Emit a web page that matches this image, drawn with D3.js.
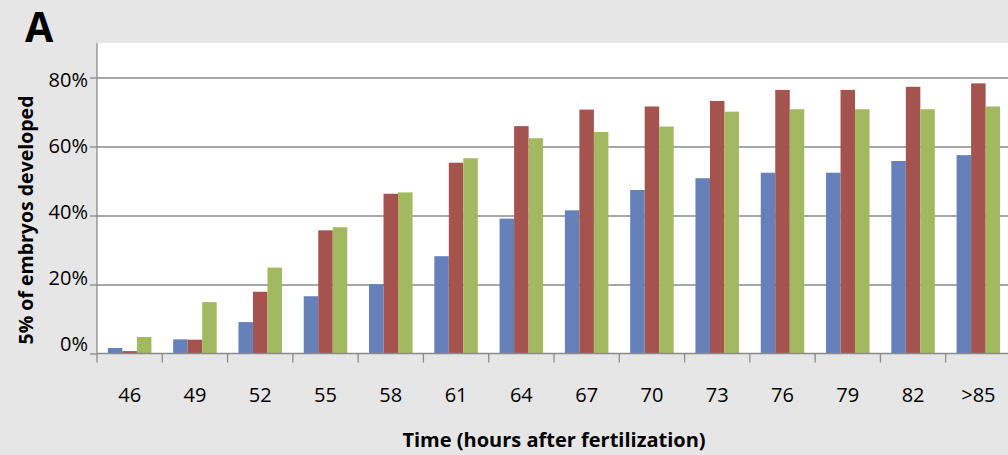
<!DOCTYPE html>
<html>
<head>
<meta charset="utf-8">
<script src="https://cdn.jsdelivr.net/npm/d3@7"></script>
<style>
  html, body { margin: 0; padding: 0; background: #e6e6e6; }
  svg { display: block; }
  text { font-family: "Open Sans", "DejaVu Sans", sans-serif; fill: #000; }
</style>
</head>
<body>
<svg id="chart" width="1008" height="455"></svg>
<script>
// Hours after fertilization
const categories = ["46", "49", "52", "55", "58", "61", "64", "67", "70", "73", "76", "79", "82", ">85"];

// Percentage of embryos developed, one array per condition
const seriesBlue  = [1.6, 4.1, 9.1, 16.6, 20.1, 28.2, 39.1, 41.5, 47.4, 50.8, 52.4, 52.4, 55.8, 57.5];
const seriesRed   = [0.7, 4.0, 17.9, 35.7, 46.3, 55.3, 65.9, 70.7, 71.6, 73.2, 76.4, 76.4, 77.3, 78.3];
const seriesGreen = [4.8, 14.9, 24.9, 36.6, 46.7, 56.6, 62.4, 64.2, 65.8, 70.1, 70.8, 70.8, 70.8, 71.6];

const seriesColors = ["#6681ba", "#a4534f", "#a3b95f"];
const yTicks = [0, 20, 40, 60, 80];

const svg = d3.select("#chart");
const W = 1008, H = 455;
const plot = { left: 97, right: 1011, top: 43, bottom: 353.5 };
const axisColor = "#8a8a8a";
const labelSize = 20;

const series = [seriesBlue, seriesRed, seriesGreen];

const x = d3.scaleBand().domain(categories).range([plot.left, plot.right]).padding(0);
const xInner = d3.scaleBand().domain(d3.range(series.length))
  .range([0, x.bandwidth()]).paddingInner(0).paddingOuter(0.75);
const y = d3.scaleLinear().domain([0, 90]).range([plot.bottom, plot.top]);
// tick labels sit on a slightly tighter spacing than the gridlines
const yLabel = d3.scaleLinear().domain([0, 80]).range([343.7, 79.2]);

// panel background and white plot area
svg.append("rect").attr("width", W).attr("height", H).attr("fill", "#e6e6e6");
svg.append("rect")
  .attr("x", plot.left).attr("y", plot.top)
  .attr("width", plot.right - plot.left).attr("height", plot.bottom - plot.top)
  .attr("fill", "#ffffff");

// horizontal gridlines
svg.append("g")
  .attr("transform", `translate(${plot.left},0)`)
  .call(d3.axisLeft(y).tickValues(yTicks.filter(d => d > 0)).tickSize(-(plot.right - plot.left)).tickFormat(""))
  .call(g => g.select(".domain").remove())
  .call(g => g.selectAll("line").attr("stroke", axisColor).attr("stroke-width", 1.3));

// bars
const groups = svg.append("g").selectAll("g")
  .data(categories)
  .join("g")
  .attr("transform", d => `translate(${x(d)},0)`);

groups.selectAll("rect")
  .data((d, i) => series.map((s, k) => ({ k, v: s[i] })))
  .join("rect")
  .attr("x", d => xInner(d.k))
  .attr("width", xInner.bandwidth())
  .attr("y", d => y(d.v))
  .attr("height", d => y(0) - y(d.v))
  .attr("fill", d => seriesColors[d.k]);

// y axis with tick marks and percentage labels
svg.append("g")
  .attr("transform", `translate(${plot.left},0)`)
  .call(d3.axisLeft(y).tickValues(yTicks).tickSize(7).tickPadding(2).tickFormat(d => d + "%"))
  .call(g => g.select(".domain").attr("stroke", axisColor).attr("stroke-width", 1.3)
        .attr("d", `M0,${plot.top}V${plot.bottom}`))
  .call(g => g.selectAll("line").attr("stroke", axisColor).attr("stroke-width", 1.3))
  .call(g => g.selectAll("text")
        .attr("font-size", labelSize)
        .attr("font-family", "'Open Sans', sans-serif")
        .attr("fill", "#111")
        .attr("dy", d => (yLabel(d) - y(d)) + 0.357 * labelSize));

// x axis: baseline, boundary tick marks, category labels
const xAxis = svg.append("g").attr("transform", `translate(0,${plot.bottom})`);
xAxis.call(d3.axisBottom(x).tickSize(0).tickPadding(34))
  .call(g => g.select(".domain").attr("stroke", axisColor).attr("stroke-width", 1.3)
        .attr("d", `M${plot.left},0H${plot.right}`))
  .call(g => g.selectAll("text")
        .attr("font-size", labelSize)
        .attr("font-family", "'Open Sans', sans-serif")
        .attr("fill", "#111"));

const boundaries = categories.map(c => x(c)).concat([plot.right]);
xAxis.append("g").selectAll("line")
  .data(boundaries)
  .join("line")
  .attr("x1", d => d).attr("x2", d => d)
  .attr("y1", 0).attr("y2", 9)
  .attr("stroke", axisColor).attr("stroke-width", 1.3);

// axis titles
svg.append("text")
  .attr("x", 554)
  .attr("y", 447)
  .attr("text-anchor", "middle")
  .attr("font-size", 20)
  .attr("font-weight", "bold")
  .text("Time (hours after fertilization)");

svg.append("text")
  .attr("transform", `translate(33,220) rotate(-90)`)
  .attr("text-anchor", "middle")
  .attr("font-size", 19.5)
  .attr("font-weight", "bold")
  .text("5% of embryos developed");

// panel letter
svg.append("text")
  .attr("x", 25)
  .attr("y", 42)
  .attr("font-size", 41)
  .attr("font-weight", "bold")
  .attr("font-family", "'Liberation Sans', Arial, sans-serif")
  .text("A");
</script>
</body>
</html>
